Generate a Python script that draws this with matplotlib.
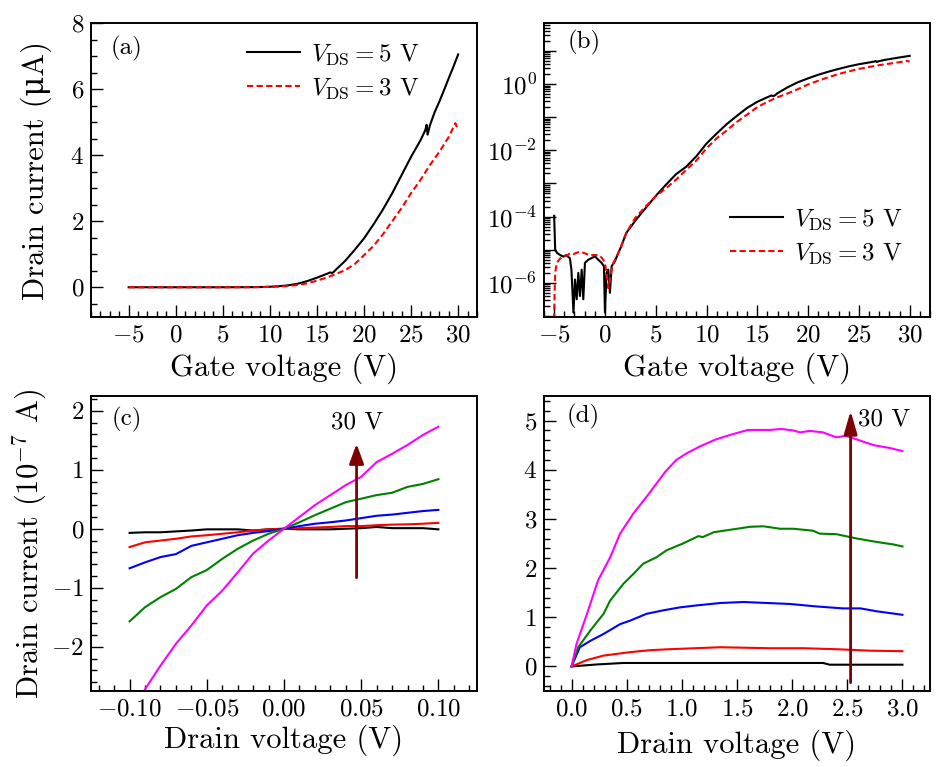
import numpy as np
import matplotlib
matplotlib.use("Agg")
import matplotlib.pyplot as plt
from matplotlib.ticker import MultipleLocator, LogLocator, FuncFormatter, NullFormatter

plt.rcParams['font.family'] = ['cmr10', 'DejaVu Serif']
plt.rcParams['mathtext.fontset'] = 'cm'
plt.rcParams['axes.formatter.use_mathtext'] = True
plt.rcParams['axes.unicode_minus'] = True

# ---------------- data: transfer curves (a), (b) -- drain current in uA
vg_5v = [-5.0, -4.9, -4.7, -4.4, -4.1, -3.8, -3.45, -3.3, -3.1, -2.95,
         -2.78, -2.62, -2.46, -2.29, -2.13, -1.97, -1.64, -1.31, -0.98, -0.66,
         -0.33, -0.1, 0.0, 0.16, 0.33, 0.49, 0.66, 0.98, 1.31, 1.6,
         2.1, 3, 4, 5, 6, 7, 8, 9, 10, 11,
         12, 13, 14, 15, 16, 16.4, 16.6, 16.8, 17, 18,
         19, 20, 21, 22, 23, 24, 25, 26, 26.5, 26.65,
         26.75, 27, 27.5, 28, 28.5, 29, 29.5, 30]
id_5v = [1.05e-4, 1.0e-5, 7.9e-6, 6.9e-6, 6.2e-6, 6.9e-6, 5.5e-6, 2.5e-6, 1.26e-7, 1.26e-6,
         3.2e-7, 2.0e-6, 4.0e-7, 2.5e-6, 3.2e-7, 4.0e-6, 5.0e-6, 5.6e-6, 6.3e-6, 5.0e-6,
         4.0e-6, 3.2e-6, 1.26e-7, 2.0e-6, 2.5e-6, 5.0e-7, 3.2e-6, 4.5e-6, 7.9e-6, 1.26e-5,
         3.2e-5, 7.6e-5, 1.8e-4, 4.2e-4, 9.1e-4, 1.9e-3, 3.2e-3, 6.6e-3, 0.016, 0.032,
         0.062, 0.11, 0.19, 0.29, 0.40, 0.45, 0.43, 0.47, 0.53, 0.80,
         1.13, 1.48, 1.9, 2.35, 2.85, 3.4, 3.95, 4.45, 4.75, 4.92,
         4.62, 4.9, 5.3, 5.62, 5.97, 6.33, 6.68, 7.05]

vg_3v = [-5.0, -4.95, -4.9, -4.75, -4.4, -4.1, -3.77, -3.44, -3.1, -2.78,
         -2.46, -2.13, -1.8, -1.47, -1.15, -0.82, -0.49, -0.16, 0.0, 0.16,
         0.33, 0.49, 0.66, 0.82, 1.15, 1.47, 2.1, 3, 4, 5,
         6, 7, 8, 9, 10, 11, 12, 13, 14, 15,
         16, 17, 18, 19, 20, 21, 22, 23, 24, 25,
         26, 27, 28, 29, 29.7, 30]
id_3v = [7.9e-8, 6.3e-7, 2.0e-6, 4.0e-6, 5.5e-6, 6.2e-6, 6.6e-6, 7.8e-6, 7.4e-6, 8.1e-6,
         8.7e-6, 8.1e-6, 7.4e-6, 6.9e-6, 6.9e-6, 6.9e-6, 6.6e-6, 4.9e-6, 3.9e-6, 1.95e-6,
         6.9e-7, 1.23e-6, 2.45e-6, 3.9e-6, 6.2e-6, 1.0e-5, 3.2e-5, 9.3e-5, 2.0e-4, 4.1e-4,
         7.1e-4, 1.3e-3, 2.6e-3, 4.9e-3, 0.0115, 0.023, 0.04, 0.072, 0.12, 0.2,
         0.29, 0.4, 0.52, 0.7, 0.97, 1.25, 1.6, 2.0, 2.4, 2.85,
         3.25, 3.7, 4.1, 4.55, 4.97, 4.75]

# ---------------- data: output curves (c), low drain voltage, 1e-7 A
vd_c = [-0.10, -0.09, -0.08, -0.07, -0.06, -0.05, -0.04, -0.03, -0.02, -0.01,
        0.0, 0.01, 0.02, 0.03, 0.04, 0.05, 0.06, 0.07, 0.08, 0.09, 0.10]
ic_black = [-0.07, -0.06, -0.06, -0.045, -0.03, -0.01, -0.01, -0.01, -0.03, -0.01,
            0.0, -0.01, -0.01, -0.01, 0.0, 0.01, 0.03, 0.01, 0.01, 0.01, -0.01]
ic_red = [-0.31, -0.23, -0.20, -0.17, -0.13, -0.11, -0.085, -0.06, -0.03, -0.01,
          0.0, 0.01, 0.02, 0.03, 0.045, 0.045, 0.06, 0.07, 0.075, 0.085, 0.10]
ic_blue = [-0.67, -0.57, -0.48, -0.43, -0.29, -0.23, -0.17, -0.11, -0.07, -0.04,
           0.0, 0.045, 0.085, 0.11, 0.14, 0.18, 0.22, 0.24, 0.27, 0.30, 0.32]
ic_green = [-1.57, -1.33, -1.16, -1.02, -0.82, -0.70, -0.51, -0.34, -0.20, -0.085,
            0.0, 0.11, 0.23, 0.34, 0.45, 0.51, 0.57, 0.61, 0.71, 0.76, 0.84]
ic_magenta = [-3.2, -2.72, -2.32, -1.95, -1.64, -1.30, -1.05, -0.74, -0.42, -0.20,
              0.0, 0.20, 0.40, 0.57, 0.74, 0.88, 1.13, 1.27, 1.42, 1.59, 1.73]

# ---------------- data: output curves (d), 0-3 V drain voltage
vd_d_black = [0.0, 0.23, 0.47, 2.28, 2.34, 3.0]
id_d_black = [0.0, 0.04, 0.07, 0.07, 0.035, 0.035]
vd_d_red = [0.0, 0.14, 0.29, 0.53, 0.71, 0.89, 1.35, 1.80, 2.10, 2.40, 2.71, 3.0]
id_d_red = [0.0, 0.13, 0.22, 0.29, 0.33, 0.35, 0.39, 0.37, 0.37, 0.35, 0.32, 0.31]
vd_d_blue = [0.0, 0.075, 0.17, 0.29, 0.44, 0.53, 0.68, 0.83, 0.98, 1.13, 1.35, 1.56,
             1.77, 1.98, 2.22, 2.46, 2.62, 2.77, 3.0]
id_d_blue = [0.0, 0.39, 0.52, 0.66, 0.86, 0.93, 1.07, 1.14, 1.20, 1.24, 1.29, 1.31,
             1.29, 1.27, 1.22, 1.18, 1.18, 1.12, 1.05]
vd_d_green = [0.0, 0.06, 0.17, 0.29, 0.35, 0.47, 0.56, 0.65, 0.77, 0.86, 1.01, 1.15,
              1.19, 1.29, 1.41, 1.50, 1.62, 1.74, 1.89, 2.01, 2.19, 2.25, 2.40, 2.59,
              2.77, 2.92, 3.0]
id_d_green = [0.0, 0.39, 0.73, 1.07, 1.34, 1.68, 1.88, 2.09, 2.22, 2.36, 2.50, 2.65,
              2.63, 2.73, 2.77, 2.80, 2.84, 2.85, 2.80, 2.80, 2.76, 2.70, 2.69, 2.60,
              2.53, 2.48, 2.44]
vd_d_magenta = [0.0, 0.045, 0.14, 0.24, 0.35, 0.44, 0.56, 0.68, 0.77, 0.85, 0.95, 1.04,
                1.16, 1.30, 1.44, 1.60, 1.71, 1.80, 1.90, 2.01, 2.07, 2.16, 2.28, 2.40,
                2.49, 2.62, 2.74, 2.89, 3.0]
id_d_magenta = [0.0, 0.46, 1.07, 1.75, 2.22, 2.70, 3.11, 3.45, 3.72, 3.96, 4.20, 4.33,
                4.47, 4.61, 4.71, 4.81, 4.81, 4.81, 4.83, 4.80, 4.76, 4.79, 4.76, 4.66,
                4.69, 4.59, 4.50, 4.44, 4.38]

legend_labels = [r'$V_{\rm DS}=5$ V', r'$V_{\rm DS}=3$ V']
panel_labels = ['(a)', '(b)', '(c)', '(d)']
arrow_label = '30 V'

curve_colors = ['black', '#ff0000', '#0000ff', '#008000', '#ff00ff']
arrow_color = '#7f0000'

TICK = 18
LAB = 22

fig = plt.figure(figsize=(9.38, 7.67), dpi=100)
W, H = 938.0, 767.0
def add_ax(x0, y0, x1, y1):
    return fig.add_axes([x0 / W, 1 - y1 / H, (x1 - x0) / W, (y1 - y0) / H])

axa = add_ax(91, 23, 477, 317)
axb = add_ax(544, 23, 930, 317)
axc = add_ax(91, 396, 477, 691)
axd = add_ax(544, 396, 930, 691)

for ax in (axa, axb, axc, axd):
    for s in ax.spines.values():
        s.set_linewidth(1.4)
    ax.tick_params(which='both', direction='in', top=False, right=False,
                   labelsize=TICK, width=1.0, pad=5)
    ax.tick_params(which='major', length=8.5)
    ax.tick_params(which='minor', length=4.5)

lw = 1.5
dash = (0, (3, 1.6))
# (a)
axa.plot(vg_5v, id_5v, color='black', lw=lw, label=legend_labels[0])
axa.plot(vg_3v, id_3v, color='#ff0000', lw=lw, ls=dash, label=legend_labels[1])
axa.set_xlim(-9, 32)
axa.set_ylim(-0.9, 8)
axa.xaxis.set_major_locator(MultipleLocator(5))
axa.xaxis.set_minor_locator(MultipleLocator(1))
axa.yaxis.set_major_locator(MultipleLocator(2))
axa.yaxis.set_minor_locator(MultipleLocator(0.5))
axa.set_xlabel('Gate voltage (V)', fontsize=LAB, labelpad=5)
axa.set_ylabel('Drain current (\u03bcA)', fontsize=LAB, labelpad=13)
axa.legend(loc='upper left', bbox_to_anchor=(0.405, 0.935), frameon=False,
           fontsize=TICK, borderpad=0, borderaxespad=0, handlelength=2.1,
           handletextpad=0.45, labelspacing=0.38)

# (b)
axb.semilogy(vg_5v, id_5v, color='black', lw=lw, label=legend_labels[0])
axb.semilogy(vg_3v, id_3v, color='#ff0000', lw=lw, ls=dash, label=legend_labels[1])
axb.set_xlim(-6, 32)
axb.set_ylim(10 ** -7.03, 10 ** 1.84)
axb.xaxis.set_major_locator(MultipleLocator(5))
axb.xaxis.set_minor_locator(MultipleLocator(1))
axb.yaxis.set_major_locator(LogLocator(base=10, subs=(1.0,), numticks=30))
axb.yaxis.set_minor_locator(LogLocator(base=10, subs=np.arange(2, 10), numticks=30))
axb.yaxis.set_minor_formatter(NullFormatter())
def logfmt(v, pos):
    e = int(round(np.log10(v)))
    return r'$10^{%d}$' % e if e % 2 == 0 else ''
axb.yaxis.set_major_formatter(FuncFormatter(logfmt))
axb.set_xlabel('Gate voltage (V)', fontsize=LAB, labelpad=5)
axb.legend(loc='upper left', bbox_to_anchor=(0.483, 0.373), frameon=False,
           fontsize=TICK, borderpad=0, borderaxespad=0, handlelength=2.1,
           handletextpad=0.45, labelspacing=0.38)

# (c)
for yv, c in zip([ic_black, ic_red, ic_blue, ic_green, ic_magenta], curve_colors):
    axc.plot(vd_c, yv, color=c, lw=lw)
axc.set_xlim(-0.125, 0.125)
axc.set_ylim(-2.75, 2.25)
axc.xaxis.set_major_locator(MultipleLocator(0.05))
axc.xaxis.set_minor_locator(MultipleLocator(0.01))
axc.xaxis.set_major_formatter(FuncFormatter(lambda v, p: r'$%.2f$' % (0.0 if abs(v) < 1e-9 else v)))
axc.yaxis.set_major_locator(MultipleLocator(1))
axc.yaxis.set_minor_locator(MultipleLocator(0.2))
axc.set_xlabel('Drain voltage (V)', fontsize=LAB, labelpad=3)
axc.set_ylabel(r'Drain current ($10^{-7}$ A)', fontsize=LAB, labelpad=2)
axc.annotate('', xy=(0.047, 1.44), xytext=(0.047, -0.83),
             arrowprops=dict(arrowstyle='-|>,head_length=0.6,head_width=0.22',
                             color=arrow_color, lw=2.0, shrinkA=0, shrinkB=0,
                             mutation_scale=20))
axc.text(0.047, 1.8, arrow_label, fontsize=TICK, ha='center', va='center')

# (d)
for xv, yv, c in zip([vd_d_black, vd_d_red, vd_d_blue, vd_d_green, vd_d_magenta],
                     [id_d_black, id_d_red, id_d_blue, id_d_green, id_d_magenta],
                     curve_colors):
    axd.plot(xv, yv, color=c, lw=lw)
axd.set_xlim(-0.25, 3.25)
axd.set_ylim(-0.5, 5.5)
axd.xaxis.set_major_locator(MultipleLocator(0.5))
axd.xaxis.set_minor_locator(MultipleLocator(0.1))
axd.xaxis.set_major_formatter(FuncFormatter(lambda v, p: r'$%.1f$' % v))
axd.yaxis.set_major_locator(MultipleLocator(1))
axd.yaxis.set_minor_locator(MultipleLocator(0.2))
axd.set_xlabel('Drain voltage (V)', fontsize=LAB, labelpad=7)
axd.annotate('', xy=(2.53, 5.2), xytext=(2.53, -0.33),
             arrowprops=dict(arrowstyle='-|>,head_length=0.7,head_width=0.2',
                             color=arrow_color, lw=2.0, shrinkA=0, shrinkB=0,
                             mutation_scale=20))
axd.text(2.6, 5.03, arrow_label, fontsize=TICK, ha='left', va='center')

for ax, lab, pos in zip((axa, axb, axc, axd), panel_labels,
                        [(0.05, 0.915), (0.06, 0.935), (0.054, 0.919), (0.059, 0.929)]):
    ax.text(pos[0], pos[1], lab, transform=ax.transAxes, fontsize=TICK,
            ha='left', va='center')

fig.savefig('out.png', dpi=100)
